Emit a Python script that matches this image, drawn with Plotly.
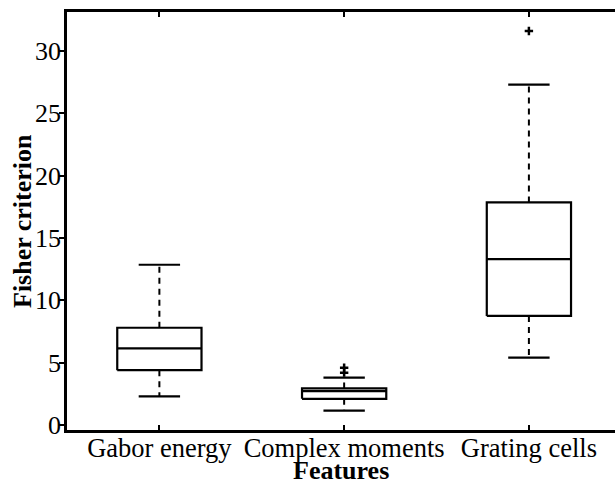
import plotly.graph_objects as go

categories = ["Gabor energy", "Complex moments", "Grating cells"]
q1 = [4.4, 2.1, 8.75]
median = [6.15, 2.72, 13.3]
q3 = [7.8, 2.93, 17.85]
lower_whisker = [2.3, 1.15, 5.4]
upper_whisker = [12.85, 3.8, 27.3]
outliers = [[], [4.2, 4.6], [31.6]]
y_ticks = [0, 5, 10, 15, 20, 25, 30]

BOX_HALF = 0.228
CAP_HALF = 0.112
FONT = "Liberation Serif, Times New Roman, serif"

fig = go.Figure()
for i, name in enumerate(categories):
    x = i + 1
    fig.add_trace(go.Scatter(
        x=[x - BOX_HALF, x + BOX_HALF, x + BOX_HALF, x - BOX_HALF, x - BOX_HALF],
        y=[q1[i], q1[i], q3[i], q3[i], q1[i]],
        mode="lines", line=dict(color="black", width=2.2), hoverinfo="skip"))
    fig.add_trace(go.Scatter(
        x=[x - BOX_HALF, x + BOX_HALF], y=[median[i], median[i]],
        mode="lines", line=dict(color="black", width=2.2), hoverinfo="skip"))
    fig.add_trace(go.Scatter(
        x=[x, x, None, x, x],
        y=[q3[i], upper_whisker[i], None, q1[i], lower_whisker[i]],
        mode="lines", line=dict(color="black", width=2, dash="6px,5px"),
        hoverinfo="skip"))
    fig.add_trace(go.Scatter(
        x=[x - CAP_HALF, x + CAP_HALF, None, x - CAP_HALF, x + CAP_HALF],
        y=[upper_whisker[i], upper_whisker[i], None, lower_whisker[i], lower_whisker[i]],
        mode="lines", line=dict(color="black", width=2.2), hoverinfo="skip"))
    if outliers[i]:
        fig.add_trace(go.Scatter(
            x=[x] * len(outliers[i]), y=outliers[i], mode="markers",
            marker=dict(symbol="cross-thin", size=6, line=dict(color="black", width=2.5)),
            hoverinfo="skip"))

fig.update_layout(
    width=615, height=483,
    margin=dict(l=67, r=0, t=12, b=53),
    paper_bgcolor="white", plot_bgcolor="white",
    showlegend=False,
    font=dict(family=FONT, size=26, color="black"),
    xaxis=dict(
        range=[0.5, 3.466], tickmode="array", tickvals=[1, 2, 3], ticktext=categories,
        ticks="inside", ticklen=5, tickwidth=2, tickcolor="black",
        showline=True, linecolor="black", linewidth=2.5, mirror="ticks",
        showgrid=False, zeroline=False, automargin=False,
        ticklabelstandoff=-8,
        tickfont=dict(family=FONT, size=26.5),
    ),
    yaxis=dict(
        range=[-0.4, 33.12], tickmode="array", tickvals=y_ticks,
        ticks="outside", ticklen=5, tickwidth=2, tickcolor="black",
        showline=True, linecolor="black", linewidth=2.5, mirror=False,
        showgrid=False, zeroline=False, automargin=False,
        ticklabelstandoff=-7,
        tickfont=dict(family=FONT, size=26),
    ),
    annotations=[
        dict(text="<b>Features</b>", xref="paper", yref="paper", x=0.5, y=0,
             xanchor="center", yanchor="middle", yshift=-40.5, showarrow=False,
             font=dict(family=FONT, size=26)),
        dict(text="<b>Fisher criterion</b>", xref="paper", yref="paper", x=0, y=0.5,
             xanchor="center", yanchor="middle", xshift=-45, textangle=-90, showarrow=False,
             font=dict(family=FONT, size=26)),
    ],
)

fig.write_html("out.html", config={"displayModeBar": False},
               post_script="document.body.style.margin='0';document.body.style.overflow='hidden';")
